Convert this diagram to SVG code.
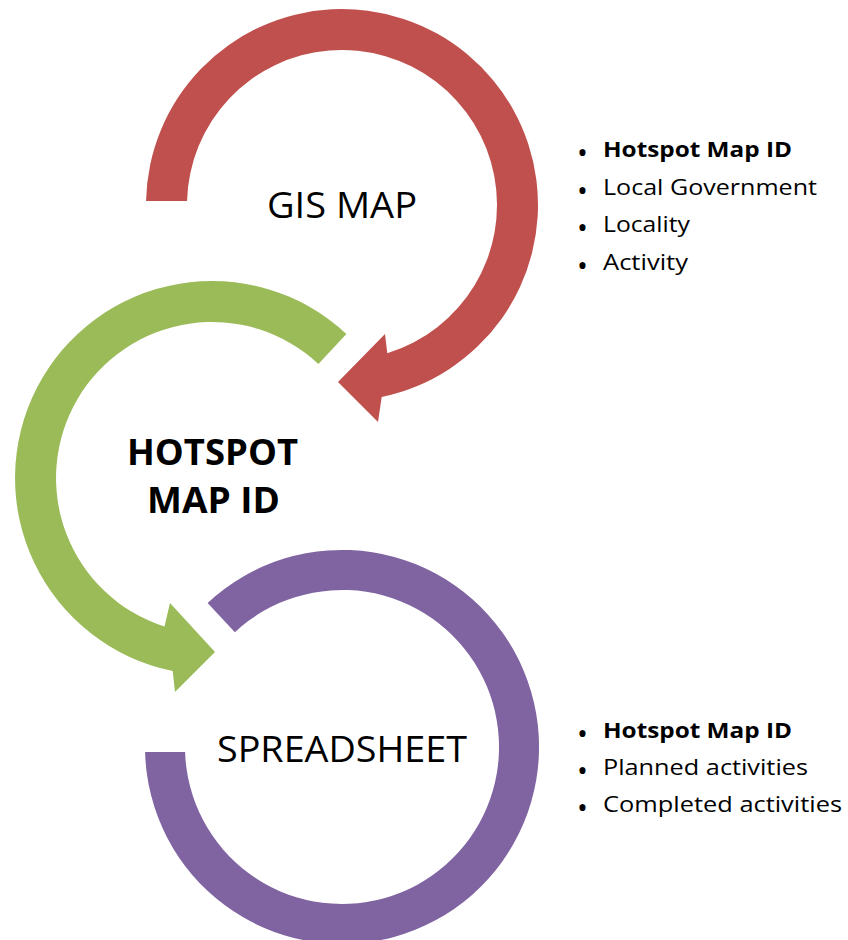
<svg xmlns="http://www.w3.org/2000/svg" width="848" height="940" viewBox="0 0 848 940">
<style>
.lbl{font-family:"Open Sans","Liberation Sans",sans-serif;fill:#000;text-anchor:middle}
.big{font-size:36px}
.bold{font-weight:bold}
.li{font-family:"Open Sans","Liberation Sans",sans-serif;font-size:22px;fill:#000}
.bul{font-family:"Open Sans","Liberation Sans",sans-serif;font-size:29px;fill:#000}
.red{fill:#C0504D}
.green{fill:#9BBB59}
.purple{fill:#8064A2}
</style>
<rect width="848" height="940" fill="#fff"/>
<g id="connectors">
<path id="arrow-red" class="red" d="M146.04,201 A196,196 0 1 1 381.7,396.9 L378,422 L338,382 L385,334 L387.3,353.2 A155,155 0 1 0 187.05,201 Z"/>
<path id="arrow-green" class="green" d="M346.4,333.9 A197,197 0 1 0 172.7,671 L175,692 L215,652 L170,603 L164.5,626.6 A156,156 0 1 1 318.4,363.9 Z"/>
</g>
<g id="gis-map">
<text class="lbl big" x="342" y="218" textLength="150" lengthAdjust="spacingAndGlyphs">GIS MAP</text>
</g>
<g id="hotspot-map-id">
<text class="lbl big bold" x="212.5" y="465" textLength="171" lengthAdjust="spacingAndGlyphs">HOTSPOT</text>
<text class="lbl big bold" x="213.5" y="513" textLength="133" lengthAdjust="spacingAndGlyphs">MAP ID</text>
</g>
<g id="spreadsheet">
<path id="ring-purple" class="purple" d="M207.6,602.9 A197,197 0 1 1 145.1,752 L185.1,752 A157,157 0 1 0 234.9,632.2 Z"/>
<text class="lbl big" x="342" y="762" textLength="250" lengthAdjust="spacingAndGlyphs">SPREADSHEET</text>
</g>
<g id="gis-fields">
<text class="bul" x="577" y="163">•</text><text class="li bold" x="603" y="157" textLength="189" lengthAdjust="spacingAndGlyphs">Hotspot Map ID</text>
<text class="bul" x="577" y="200.5">•</text><text class="li" x="603" y="194.5" textLength="214" lengthAdjust="spacingAndGlyphs">Local Government</text>
<text class="bul" x="577" y="238">•</text><text class="li" x="603" y="232" textLength="87" lengthAdjust="spacingAndGlyphs">Locality</text>
<text class="bul" x="577" y="275.5">•</text><text class="li" x="603" y="269.5" textLength="85" lengthAdjust="spacingAndGlyphs">Activity</text>
</g>
<g id="spreadsheet-fields">
<text class="bul" x="577" y="744">•</text><text class="li bold" x="603" y="738" textLength="189" lengthAdjust="spacingAndGlyphs">Hotspot Map ID</text>
<text class="bul" x="577" y="781">•</text><text class="li" x="603" y="775" textLength="205" lengthAdjust="spacingAndGlyphs">Planned activities</text>
<text class="bul" x="577" y="818">•</text><text class="li" x="603" y="812" textLength="239" lengthAdjust="spacingAndGlyphs">Completed activities</text>
</g>
</svg>
